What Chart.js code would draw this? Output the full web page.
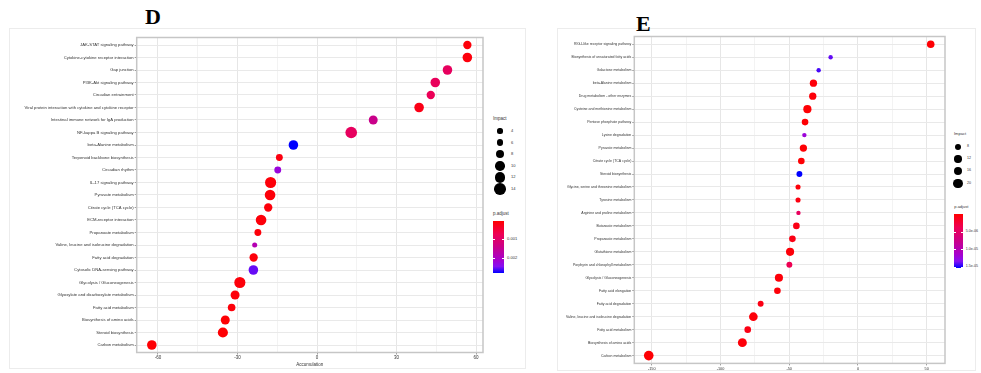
<!DOCTYPE html>
<html>
<head>
<meta charset="utf-8">
<script src="https://cdn.jsdelivr.net/npm/chart.js@4.4.0/dist/chart.umd.min.js"></script>
<style>
    body { margin: 0; width: 981px; height: 373px; background: #fff; position: relative; overflow: hidden; font-family: "Liberation Sans", Arial, sans-serif; }
    canvas { position: absolute; top: 0; }
    .frame { position: absolute; border: 1px solid #ececec; box-sizing: border-box; }
    .letter { position: absolute; font-family: "Liberation Serif", "Times New Roman", serif; font-weight: bold; font-size: 22px; line-height: 22px; color: #000; }
    .txt { position: absolute; white-space: nowrap; color: #333; line-height: 1; }
    .dot { position: absolute; background: #000; border-radius: 50%; }
    .bar { position: absolute; }
    .tk { position: absolute; background: #fff; height: 0.6px; }
</style>
</head>
<body>
<div class="frame" style="left:9px; top:28px; width:517px; height:341px;"></div>
<div class="frame" style="left:557px; top:28px; width:419px; height:343px;"></div>
<div class="letter" style="left:145px; top:6px;">D</div>
<div class="letter" style="left:636px; top:13px;">E</div>
<canvas id="chartD" width="490" height="373" style="left:0px;"></canvas>
<canvas id="chartE" width="410" height="373" style="left:540px;"></canvas>
<script>
// ---- panel D data ----
const labelsD = [
    'JAK-STAT signaling pathway',
    'Cytokine-cytokine receptor interaction',
    'Gap junction',
    'PI3K-Akt signaling pathway',
    'Circadian entrainment',
    'Viral protein interaction with cytokine and cytokine receptor',
    'Intestinal immune network for IgA production',
    'NF-kappa B signaling pathway',
    'beta-Alanine metabolism',
    'Terpenoid backbone biosynthesis',
    'Circadian rhythm',
    'IL-17 signaling pathway',
    'Pyruvate metabolism',
    'Citrate cycle (TCA cycle)',
    'ECM-receptor interaction',
    'Propanoate metabolism',
    'Valine, leucine and isoleucine degradation',
    'Fatty acid degradation',
    'Cytosolic DNA-sensing pathway',
    'Glycolysis / Gluconeogenesis',
    'Glyoxylate and dicarboxylate metabolism',
    'Fatty acid metabolism',
    'Biosynthesis of amino acids',
    'Steroid biosynthesis',
    'Carbon metabolism'
];
const accumD = [56.7, 56.7, 49.2, 44.6, 42.9, 38.5, 21.2, 12.9, -8.9, -14.2, -14.8, -17.5, -17.7,
    -18.4, -21.1, -22.3, -23.5, -23.9, -24.0, -29.1, -30.9, -32.2, -34.6, -35.5, -62.3];
const impactD = [8, 10, 10, 10, 8, 10, 9, 14, 10, 6, 6, 13, 12, 8, 12, 6, 4, 8, 10, 13, 9, 7, 9, 11, 10];
const padjD = [0.0001, 0.00012, 0.00084, 0.0008, 0.00075, 0.0002, 0.0014, 0.00084, 0.00276, 0.00015,
    0.0022, 0.0001, 0.0001, 0.0001, 0.0001, 0.0001, 0.0018, 0.0001, 0.0025, 0.0001, 0.0001, 0.0001,
    0.00005, 0.00005, 0.00005];
const xTicksD = [-60, -30, 0, 30, 60];
const xGridD = [-60, -45, -30, -15, 0, 15, 30, 45, 60];
const impactBreaksD = [4, 6, 8, 10, 12, 14];
const padjBreaksD = [0.001, 0.002];
const padjLabelsD = ['0.001', '0.002'];
const padjRangeD = [0.00002, 0.00276];

// ---- panel E data ----
const labelsE = [
    'RIG-I-like receptor signaling pathway',
    'Biosynthesis of unsaturated fatty acids',
    'Galactose metabolism',
    'beta-Alanine metabolism',
    'Drug metabolism - other enzymes',
    'Cysteine and methionine metabolism',
    'Pentose phosphate pathway',
    'Lysine degradation',
    'Pyruvate metabolism',
    'Citrate cycle (TCA cycle)',
    'Steroid biosynthesis',
    'Glycine, serine and threonine metabolism',
    'Tyrosine metabolism',
    'Arginine and proline metabolism',
    'Butanoate metabolism',
    'Propanoate metabolism',
    'Glutathione metabolism',
    'Porphyrin and chlorophyll metabolism',
    'Glycolysis / Gluconeogenesis',
    'Fatty acid elongation',
    'Fatty acid degradation',
    'Valine, leucine and isoleucine degradation',
    'Fatty acid metabolism',
    'Biosynthesis of amino acids',
    'Carbon metabolism'
];
const accumE = [52.9, -19.9, -28.6, -32.4, -32.9, -36.8, -38.5, -39.0, -39.7, -41.2, -42.6, -43.6, -43.6,
    -43.3, -44.8, -47.7, -49.4, -49.9, -57.5, -58.6, -70.8, -76.1, -80.2, -84.1, -152.2];
const impactE = [13, 4.5, 4.5, 12, 12, 15, 10, 4.5, 12, 10, 8, 6, 6, 4.5, 10, 10, 15, 8, 15, 10, 8, 17, 10, 18, 21];
const padjE = [3e-7, 1.38e-5, 1.42e-5, 5e-7, 5e-7, 3e-7, 3e-7, 1.2e-5, 3e-7, 3e-7, 1.52e-5, 5e-7, 8e-7,
    4.5e-6, 1e-6, 1e-6, 5e-7, 3.8e-6, 5e-7, 5e-7, 1e-6, 5e-7, 1e-6, 5e-7, 3e-7];
const xTicksE = [-150, -100, -50, 0, 50];
const xGridE = [-150, -125, -100, -75, -50, -25, 0, 25, 50];
const impactBreaksE = [8, 12, 16, 20];
const padjBreaksE = [5e-6, 1e-5, 1.5e-5];
const padjLabelsE = ['5.0e-06', '1.0e-05', '1.5e-05'];
const padjRangeE = [1e-7, 1.52e-5];

// red -> blue, close to ggplot's Lab gradient
const gradStops = [
    [0, [255, 0, 0]], [0.25, [238, 0, 84]], [0.5, [202, 0, 137]],
    [0.75, [166, 0, 206]], [0.875, [134, 15, 242]], [1, [0, 0, 255]]
];

function padjColor(p, range) {
    let t = (p - range[0]) / (range[1] - range[0]);
    t = Math.max(0, Math.min(1, t));
    for (let i = 1; i < gradStops.length; i++) {
        const [t1, c1] = gradStops[i];
        const [t0, c0] = gradStops[i - 1];
        if (t <= t1) {
            const f = (t - t0) / (t1 - t0);
            const c = c0.map((v, k) => Math.round(v + (c1[k] - v) * f));
            return `rgb(${c[0]},${c[1]},${c[2]})`;
        }
    }
    return 'rgb(0,0,255)';
}

const radiusD = imp => 1.1 * Math.sqrt(Math.max(0.5, -3.8 + 2.27 * imp));
const radiusE = imp => 1.1 * Math.sqrt(Math.max(0.5, -0.2 + 0.93 * imp));

const panelBorder = {
    id: 'panelBorder',
    afterDraw(chart) {
        const { ctx, chartArea: a } = chart;
        ctx.save();
        ctx.strokeStyle = '#c6c6c6';
        ctx.lineWidth = 1.5;
        ctx.strokeRect(a.left, a.top, a.right - a.left, a.bottom - a.top);
        ctx.restore();
    }
};

function dotPlot(canvasId, o) {
    const points = o.labels.map((lab, i) => ({ x: o.accum[i], y: i }));
    return new Chart(document.getElementById(canvasId), {
        type: 'scatter',
        data: {
            datasets: [{
                data: points,
                pointRadius: ctx => o.radius(o.impact[ctx.dataIndex]),
                pointHoverRadius: ctx => o.radius(o.impact[ctx.dataIndex]),
                backgroundColor: ctx => padjColor(o.padj[ctx.dataIndex], o.padjRange),
                borderWidth: 0
            }]
        },
        options: {
            responsive: false,
            animation: false,
            events: [],
            layout: { padding: { top: o.padTop, right: o.padRight, left: 0, bottom: 0 } },
            plugins: { legend: { display: false }, tooltip: { enabled: false } },
            scales: {
                x: {
                    type: 'linear',
                    min: o.xMin,
                    max: o.xMax,
                    afterBuildTicks: ax => { ax.ticks = o.xGrid.map(v => ({ value: v })); },
                    afterFit: ax => { ax.height = o.xAxisH; },
                    ticks: {
                        autoSkip: false,
                        maxRotation: 0,
                        padding: 1,
                        color: '#333',
                        font: { size: o.xFont, family: 'Liberation Sans' },
                        callback: v => o.xTicks.includes(v) ? String(v) : ''
                    },
                    grid: {
                        color: ctx => o.xTicks.includes(ctx.tick.value) ? '#e6e6e6' : '#f3f3f3',
                        tickColor: ctx => o.xTicks.includes(ctx.tick.value) ? '#999' : 'rgba(0,0,0,0)',
                        tickLength: 2
                    },
                    border: { display: false },
                    title: {
                        display: !!o.xTitle,
                        text: o.xTitle,
                        color: '#333',
                        font: { size: 4.5, family: 'Liberation Sans' },
                        padding: { top: 0, bottom: 6 }
                    }
                },
                y: {
                    type: 'linear',
                    reverse: true,
                    min: -0.6,
                    max: o.labels.length - 0.4,
                    afterBuildTicks: ax => { ax.ticks = o.labels.map((_, i) => ({ value: i })); },
                    afterFit: ax => { ax.width = o.yAxisW; },
                    ticks: {
                        autoSkip: false,
                        padding: 1,
                        color: '#333',
                        font: { size: o.yFont, family: 'Liberation Sans' },
                        callback: v => o.labels[v]
                    },
                    grid: { color: '#e9e9e9', tickColor: '#999', tickLength: 2 },
                    border: { display: false }
                }
            }
        },
        plugins: [panelBorder]
    });
}

dotPlot('chartD', {
    labels: labelsD, accum: accumD, impact: impactD, padj: padjD, padjRange: padjRangeD,
    radius: radiusD, xTicks: xTicksD, xGrid: xGridD, xMin: -68, xMax: 62.6,
    xTitle: 'Accumulation', xFont: 4.5, yFont: 4.2,
    padTop: 37.5, padRight: 7, xAxisH: 20.5, yAxisW: 136.7
});

dotPlot('chartE', {
    labels: labelsE, accum: accumE, impact: impactE, padj: padjE, padjRange: padjRangeE,
    radius: radiusE, xTicks: xTicksE, xGrid: xGridE, xMin: -162.7, xMax: 63.3,
    xTitle: '', xFont: 3.8, yFont: 3.5,
    padTop: 36.5, padRight: 5, xAxisH: 9.6, yAxisW: 94.3
});

// ---- legends (size keys + colour bars) ----
function addEl(cls, style, text) {
    const d = document.createElement('div');
    d.className = cls;
    Object.assign(d.style, style);
    if (text != null) d.textContent = text;
    document.body.appendChild(d);
    return d;
}

function sizeLegend(o) {
    addEl('txt', { left: o.x + 'px', top: (o.titleY - o.font / 2) + 'px', fontSize: o.font + 'px' }, 'Impact');
    o.breaks.forEach((b, i) => {
        const r = o.radius(b);
        const cy = o.firstY + i * o.step;
        addEl('dot', { left: (o.cx - r) + 'px', top: (cy - r) + 'px', width: 2 * r + 'px', height: 2 * r + 'px' });
        addEl('txt', { left: o.labelX + 'px', top: (cy - o.font * 0.45) + 'px', fontSize: (o.font * 0.9) + 'px' }, String(b));
    });
}

function colorLegend(o) {
    addEl('txt', { left: o.x + 'px', top: (o.titleY - o.font / 2) + 'px', fontSize: o.font + 'px' }, 'p.adjust');
    const grad = gradStops.map(s => `rgb(${s[1].join(',')}) ${s[0] * 100}%`).join(', ');
    addEl('bar', {
        left: o.x + 'px', top: o.top + 'px', width: o.w + 'px', height: o.h + 'px',
        background: `linear-gradient(to bottom, ${grad})`
    });
    o.breaks.forEach((b, i) => {
        const y = o.top + (b - o.range[0]) / (o.range[1] - o.range[0]) * o.h;
        addEl('tk', { left: o.x + 'px', top: y + 'px', width: (o.w * 0.2) + 'px' });
        addEl('tk', { left: (o.x + o.w * 0.8) + 'px', top: y + 'px', width: (o.w * 0.2) + 'px' });
        addEl('txt', { left: (o.x + o.w + 3) + 'px', top: (y - o.font * 0.45) + 'px', fontSize: (o.font * 0.9) + 'px' }, o.labels[i]);
    });
}

sizeLegend({ breaks: impactBreaksD, radius: radiusD, x: 493, titleY: 119.3, cx: 500, firstY: 131, step: 11.6, labelX: 511, font: 4.5 });
colorLegend({ breaks: padjBreaksD, labels: padjLabelsD, range: padjRangeD, x: 493, titleY: 214, top: 220.7, w: 11, h: 52, font: 4.5 });
sizeLegend({ breaks: impactBreaksE, radius: radiusE, x: 954, titleY: 134.3, cx: 958, firstY: 146.7, step: 12.2, labelX: 967, font: 4 });
colorLegend({ breaks: padjBreaksE, labels: padjLabelsE, range: padjRangeE, x: 954.3, titleY: 207.3, top: 214, w: 8.5, h: 54, font: 4 });
</script>
</body>
</html>
